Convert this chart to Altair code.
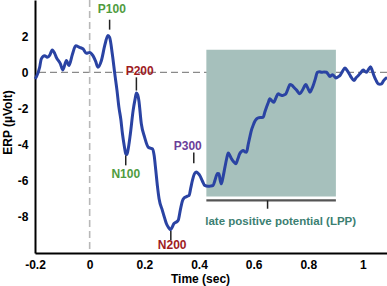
import altair as alt
import pandas as pd

# ERP curve (time in sec, amplitude in microvolt)
time = [-0.200, -0.195, -0.183, -0.177, -0.165, -0.155, -0.146, -0.137, -0.128, -0.122,
        -0.107, -0.098, -0.085, -0.076, -0.063, -0.051, -0.037, -0.024, -0.012, 0.000,
        0.012, 0.022, 0.030, 0.043, 0.055, 0.067, 0.073, 0.083, 0.092, 0.100,
        0.107, 0.114, 0.120, 0.127, 0.132, 0.136, 0.140, 0.149, 0.159, 0.166,
        0.171, 0.176, 0.180, 0.189, 0.201, 0.214, 0.222, 0.230, 0.236, 0.242,
        0.248, 0.254, 0.266, 0.275, 0.281, 0.289, 0.295, 0.301, 0.308, 0.316,
        0.324, 0.332, 0.340, 0.346, 0.352, 0.358, 0.364, 0.370, 0.376, 0.384,
        0.391, 0.397, 0.403, 0.412, 0.421, 0.433, 0.442, 0.452, 0.458, 0.464,
        0.468, 0.473, 0.478, 0.482, 0.488, 0.495, 0.501, 0.507, 0.513, 0.519,
        0.527, 0.535, 0.542, 0.549, 0.556, 0.562, 0.568, 0.574, 0.580, 0.586,
        0.592, 0.598, 0.605, 0.611, 0.617, 0.626, 0.635, 0.641, 0.647, 0.653,
        0.659, 0.667, 0.674, 0.682, 0.690, 0.698, 0.706, 0.712, 0.718, 0.726,
        0.733, 0.740, 0.747, 0.758, 0.769, 0.780, 0.791, 0.799, 0.806, 0.812,
        0.818, 0.826, 0.833, 0.841, 0.849, 0.858, 0.867, 0.873, 0.879, 0.884,
        0.889, 0.895, 0.901, 0.909, 0.916, 0.925, 0.934, 0.942, 0.950, 0.958,
        0.967, 0.975, 0.983, 0.992, 1.001, 1.007, 1.013, 1.020, 1.028, 1.034,
        1.040, 1.048, 1.056, 1.062, 1.068, 1.075, 1.081, 1.088]
erp = [-0.37, -0.25, 0.28, 0.74, 0.92, 0.83, 0.95, 1.24, 1.05, 0.83,
       0.46, 0.13, 0.65, 0.37, 1.00, 1.47, 1.38, 1.29, 1.05, 1.10,
       0.92, 0.60, 0.28, 0.65, 1.47, 2.03, 1.93, 1.00, -0.09, -1.00,
       -1.93, -2.60, -3.40, -4.10, -4.50, -4.55, -4.33, -3.40, -2.12, -1.50,
       -1.14, -1.25, -1.56, -2.85, -3.59, -4.14, -4.20, -4.23, -4.60, -5.43,
       -6.30, -7.00, -7.64, -8.10, -8.38, -8.60, -8.71, -8.60, -8.38, -8.30,
       -8.19, -7.60, -7.09, -6.95, -6.90, -6.85, -6.81, -6.40, -5.98, -5.60,
       -5.52, -5.60, -5.71, -6.00, -6.26, -6.31, -6.30, -6.26, -6.00, -5.71,
       -5.60, -5.61, -6.00, -6.17, -5.80, -5.25, -4.80, -4.47, -4.60, -4.79,
       -4.95, -5.06, -4.80, -4.51, -4.38, -4.33, -4.40, -4.42, -4.00, -3.59,
       -3.20, -2.94, -2.70, -2.58, -2.52, -2.50, -2.49, -2.20, -1.93, -1.70,
       -1.47, -1.58, -1.66, -1.40, -1.19, -1.25, -1.29, -1.25, -1.19, -0.90,
       -0.68, -0.72, -0.83, -1.00, -1.19, -0.95, -0.68, -0.90, -1.10, -0.95,
       -0.73, -0.35, 0.00, 0.03, 0.00, 0.02, 0.00, -0.12, -0.24, -0.18,
       -0.13, -0.22, -0.31, -0.25, -0.18, 0.05, 0.24, 0.10, -0.09, -0.30,
       -0.46, -0.30, -0.18, -0.02, 0.13, 0.05, 0.00, 0.15, 0.31, 0.10,
       -0.18, -0.45, -0.64, -0.66, -0.64, -0.48, -0.37, -0.28]

# Peak annotations
peak_names = ["P100", "N100", "P200", "N200", "P300"]
peak_text_t = [0.081, 0.132, 0.183, 0.302, 0.359]
peak_text_v = [3.52, -5.65, 0.09, -9.58, -4.10]
peak_tick_t = [0.073, 0.132, 0.171, 0.297, 0.381]
peak_tick_v1 = [2.91, -4.60, -0.28, -8.78, -4.44]
peak_tick_v2 = [2.36, -5.15, -1.01, -9.30, -5.04]
peak_colors = ["#4f9c3f", "#4f9c3f", "#9e1b1f", "#9e1b1f", "#6b3f9a"]

# LPP window
lpp_start, lpp_end = 0.427, 0.901
lpp_top, lpp_bottom = 1.25, -6.87
lpp_bracket_v = -7.09
lpp_tick_t = 0.651
lpp_tick_v2 = -7.55
lpp_label = "late positive potential (LPP)"
lpp_label_t, lpp_label_v = 0.699, -8.29

x_ticks = [-0.2, 0, 0.2, 0.4, 0.6, 0.8, 1]
y_ticks = [-8, -6, -4, -2, 0, 2]
x_domain = [-0.2, 1.088]
y_domain = [-10, 4]

FONT = "Liberation Sans"

curve = pd.DataFrame({"t": time, "v": erp})
peaks = pd.DataFrame({"name": peak_names, "tt": peak_text_t, "tv": peak_text_v,
                      "kt": peak_tick_t, "k1": peak_tick_v1, "k2": peak_tick_v2,
                      "c": peak_colors})

xscale = alt.Scale(domain=x_domain, nice=False, zero=False)
yscale = alt.Scale(domain=y_domain, nice=False, zero=False)

x_axis = alt.Axis(values=x_ticks, labelExpr="datum.value + ''", title="Time (sec)",
                  grid=False, ticks=False, domainColor="black", domainWidth=2,
                  labelFont=FONT, labelFontSize=12, labelFontWeight="bold",
                  labelColor="black", labelPadding=6, labelFlush=False,
                  titleFont=FONT, titleFontSize=12, titleFontWeight="bold",
                  titleColor="black", titleX=165, titleY=29.5,
                  titleBaseline="alphabetic", titleAlign="center")
y_axis = alt.Axis(values=y_ticks, labelExpr="datum.value + ''", title="ERP (µVolt)",
                  grid=False, ticks=False, domainColor="black", domainWidth=2,
                  labelFont=FONT, labelFontSize=12, labelFontWeight="bold",
                  labelColor="black", labelPadding=7, labelFlush=False,
                  titleFont=FONT, titleFontSize=12, titleFontWeight="bold",
                  titleColor="black", titleX=-28, titleY=122, titleAngle=270,
                  titleAlign="center", titleBaseline="middle")


def X(field):
    return alt.X(field, type="quantitative", scale=xscale, axis=x_axis)


def Y(field):
    return alt.Y(field, type="quantitative", scale=yscale, axis=y_axis)


zero_line = alt.Chart(pd.DataFrame({"v": [0]})).mark_rule(
    color="#8a8a8a", strokeDash=[7, 4], strokeWidth=1.2).encode(y=Y("v"))
onset_line = alt.Chart(pd.DataFrame({"t": [0]})).mark_rule(
    color="#b8b8b8", strokeDash=[7, 4], strokeWidth=1.6).encode(x=X("t"))

lpp_df = pd.DataFrame({"t1": [lpp_start], "t2": [lpp_end], "v1": [lpp_top],
                       "v2": [lpp_bottom], "vb": [lpp_bracket_v], "tk": [lpp_tick_t],
                       "vk": [lpp_tick_v2], "lt": [lpp_label_t], "lv": [lpp_label_v],
                       "label": [lpp_label]})
lpp_rect = alt.Chart(lpp_df).mark_rect(color="#a6c0bc").encode(
    x=X("t1"), x2="t2", y=Y("v1"), y2="v2")
lpp_bracket = alt.Chart(lpp_df).mark_rule(color="#555555", strokeWidth=2.2).encode(
    x=X("t1"), x2="t2", y=Y("vb"))
lpp_tick = alt.Chart(lpp_df).mark_rule(color="#222222", strokeWidth=1.5).encode(
    x=X("tk"), y=Y("vb"), y2="vk")
lpp_text = alt.Chart(lpp_df).mark_text(
    font=FONT, fontSize=11.5, fontWeight="bold", color="#3c7f72",
    baseline="middle", align="center").encode(x=X("lt"), y=Y("lv"), text="label:N")

line = alt.Chart(curve).mark_line(color="#2a43a3", strokeWidth=3,
                                  interpolate="monotone").encode(x=X("t"), y=Y("v"))

peak_ticks = alt.Chart(peaks).mark_rule(color="#222222", strokeWidth=1.5).encode(
    x=X("kt"), y=Y("k1"), y2="k2")
peak_text = alt.Chart(peaks).mark_text(
    font=FONT, fontSize=12, fontWeight="bold", baseline="middle", align="center").encode(
    x=X("tt"), y=Y("tv"), text="name:N", color=alt.Color("c:N", scale=None))

chart = alt.layer(zero_line, onset_line, lpp_rect, lpp_bracket, lpp_tick, line,
                  peak_ticks, peak_text, lpp_text).properties(
    width=352, height=253,
    autosize=alt.AutoSizeParams(type="none"),
    padding={"left": 35, "top": 0, "right": 0, "bottom": 33},
    background="white",
).configure_view(stroke=None)

chart.save("out.html", embed_options={"renderer": "svg", "actions": False})
